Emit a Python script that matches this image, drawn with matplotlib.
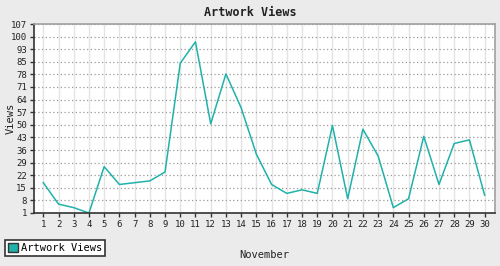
import numpy as np
import matplotlib
matplotlib.use("Agg")
import matplotlib.pyplot as plt
from matplotlib.patches import Patch

# Tagesdaten November
days = list(range(1, 31))
views = [18, 6, 4, 1, 27, 17, 18, 19, 24, 85,
         97, 51, 79, 60, 34, 17, 12, 14, 12, 50,
         9, 48, 33, 4, 9, 44, 17, 40, 42, 11]
y_labels = ["1", "8", "15", "22", "29", "36", "43", "50", "57",
            "64", "71", "78", "85", "93", "100", "107"]

line_color = "#20b2aa"
mono = "DejaVu Sans Mono"

fig = plt.figure(figsize=(5, 2.66), dpi=100)
fig.patch.set_facecolor("#ebebeb")
ax = fig.add_axes([34 / 500, 53 / 266, 461 / 500, 189 / 266])
ax.set_facecolor("white")

ax.plot(days, views, color=line_color, linewidth=1.1, label="Artwork Views")

ax.set_xlim(0.39, 30.68)
ax.set_ylim(1, 107)
ax.set_xticks(days)
ax.set_xticklabels([str(d) for d in days], fontfamily=mono, fontsize=6.5)
ax.set_yticks(np.linspace(1, 107, 16))
ax.set_yticklabels(y_labels, fontfamily=mono, fontsize=6.5)

# Gitter: vertikal durchgezogen, horizontal gepunktet
ax.grid(axis="x", color="#e4e4e4", linewidth=1, linestyle="-")
ax.grid(axis="y", color="#999999", linewidth=0.9, linestyle=(0, (1, 2)))
ax.set_axisbelow(True)

ax.tick_params(direction="out", length=3, width=1, color="#333333",
               labelcolor="#222222", pad=2)
for s in ["left", "bottom"]:
    ax.spines[s].set_color("#333333")
    ax.spines[s].set_linewidth(1.2)
for s in ["top", "right"]:
    ax.spines[s].set_color("#a0a0a0")
    ax.spines[s].set_linewidth(1.2)

fig.text(0.5, 1 - 12 / 266, "Artwork Views", ha="center", va="center",
         fontfamily=mono, fontsize=8.5, fontweight="bold", color="#222222")
fig.text(11 / 500, 1 - 118 / 266, "Views", ha="center", va="center",
         rotation=90, fontfamily=mono, fontsize=7.5, color="#222222")
fig.text(264.5 / 500, 1 - 255 / 266, "November", ha="center", va="center",
         fontfamily=mono, fontsize=7.5, color="#222222")

handle = Patch(facecolor=line_color, edgecolor="#333333", linewidth=1)
leg = fig.legend([handle], ["Artwork Views"], loc="lower left",
                 bbox_to_anchor=(5 / 500, 10 / 266), frameon=True,
                 fancybox=False, framealpha=1, edgecolor="#333333",
                 prop={"family": mono, "size": 7.5}, handlelength=0.9,
                 handleheight=0.9, handletextpad=0.3, borderpad=0.3,
                 borderaxespad=0)
leg.get_frame().set_linewidth(1.2)

plt.savefig("out.png", dpi=100, facecolor=fig.get_facecolor())
